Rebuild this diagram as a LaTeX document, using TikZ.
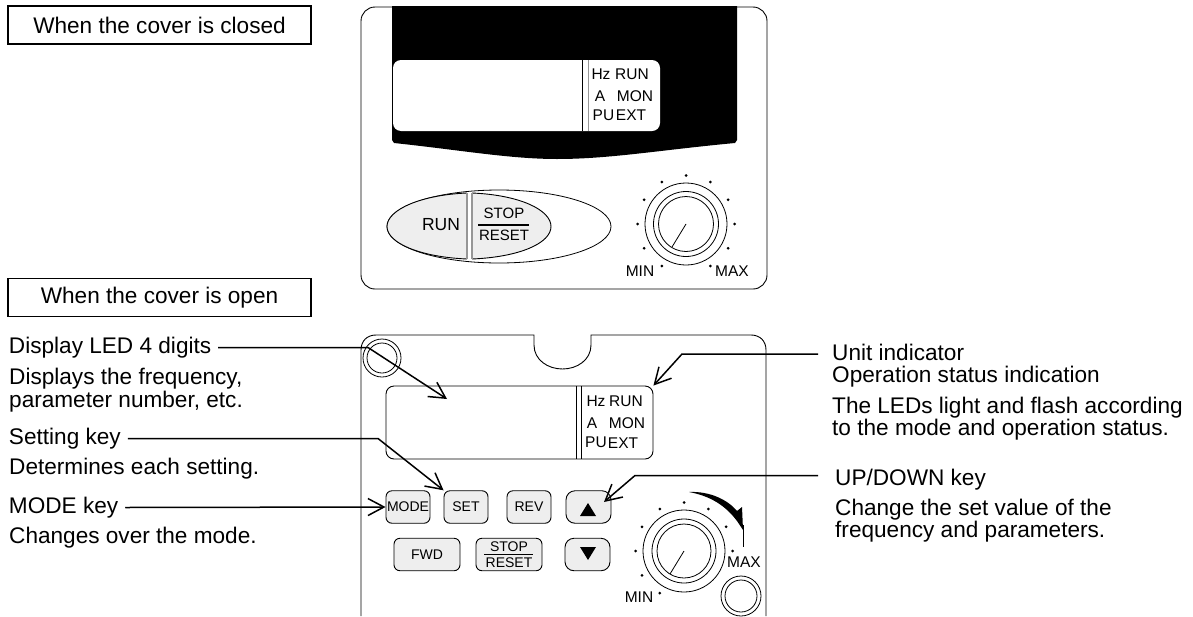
\documentclass[tikz,border=0pt]{standalone}
\usepackage{fontspec}
\setmainfont{Liberation Sans}
\usetikzlibrary{arrows.meta}
\definecolor{keygray}{RGB}{238, 238, 238}
\definecolor{bargray}{RGB}{150, 150, 150}

\begin{document}
\begin{tikzpicture}[
	x=1pt, y=-1pt,
	panel/.style={draw, line width=0.9pt},
	title/.style={draw, line width=1.2pt, minimum width=303pt, minimum height=38pt, inner sep=0pt,
		font=\fontsize{22.6}{24}\selectfont},
	lbl/.style={anchor=base west, inner sep=0pt, text height=16pt, text depth=5pt,
		font=\fontsize{22.6}{24}\selectfont},
	leadlbl/.style={lbl, outer xsep=7pt},
	unit/.style={inner sep=0pt, font=\fontsize{15.5}{17}\selectfont},
	window/.style={draw, line width=0.9pt, fill=white, rounded corners=8pt},
	key/.style={draw, line width=0.9pt, fill=keygray, rounded corners=6pt, minimum height=32.5pt,
		inner sep=0pt, font=\fontsize{14}{15}\selectfont, align=center},
	arrkey/.style={key, rounded corners=9pt, minimum width=45pt},
	arr/.style={-{Straight Barb[length=16pt,width=17pt]}, line width=1.5pt, black}
	]
	\useasboundingbox (0,0) rectangle (1193,616);

	% cover closed
	\node[title] (closedtitle) at (159.5,25) {When the cover is closed};
	\draw[panel, rounded corners=14pt] (361,289) -- (361,7) -- (767,7) -- (767,289) -- cycle;
	\fill (392,6) -- (737,6) -- (737,140) -- (735,143) .. controls (660,150) and (610,159) .. (557,159)
		.. controls (510,159) and (460,150) .. (394,143) -- (392,140) -- cycle;
	\node[window, draw=none, minimum width=267pt, minimum height=71pt] (closedwin) at (526.5,95.5) {};
	\draw[line width=0.8pt] (582,60) -- (582,131);
	\draw[bargray, line width=1.8pt] (588.5,60) -- (588.5,131);
	\node[unit] (chz)  at (601,74)  {Hz};
	\node[unit] (crun) at (632,74)  {RUN};
	\node[unit] (ca)   at (600,96)  {A};
	\node[unit] (cmon) at (635,96)  {MON};
	\node[unit] (cpu)  at (603.5,115) {PU};
	\node[unit] (cext) at (631,115) {EXT};

	% run and stop oval
	\draw[line width=0.8pt] (499,226.5) ellipse (112pt and 36.5pt);
	\fill[keygray] (467,193) .. controls (420,195) and (387,210) .. (387,226.5)
		.. controls (387,243) and (420,257) .. (467,259) -- cycle;
	\draw[line width=0.9pt] (467,193) .. controls (420,195) and (387,210) .. (387,226.5)
		.. controls (387,243) and (420,257) .. (467,259);
	\fill[keygray] (472,193) .. controls (520,195) and (551,210) .. (551,226.5)
		.. controls (551,243) and (520,257) .. (472,259) -- cycle;
	\draw[line width=0.9pt] (472,193) .. controls (520,195) and (551,210) .. (551,226.5)
		.. controls (551,243) and (520,257) .. (472,259);
	\draw[bargray, line width=1.6pt] (467,193) -- (467,259) (472,193) -- (472,259);
	\node[unit, font=\fontsize{17.5}{19}\selectfont] (crunkey) at (441,225) {RUN};
	\node[unit, font=\fontsize{15}{16}\selectfont] (cstop)  at (504,213) {STOP};
	\node[unit, font=\fontsize{15}{16}\selectfont] (creset) at (504,235) {RESET};
	\draw[line width=1.2pt] (478,225) -- (529,225);

	% closed dial
	\draw[line width=0.8pt] (686,224) circle[radius=41pt] (686,224) circle[radius=32.5pt] (686,224) circle[radius=27.5pt];
	\draw[line width=0.8pt] (686,224) -- (672,247);
	\foreach \a in {0,30,60,120,150,180,210,240,270,300,330}
		\fill ([shift={(686,224)}] \a:48.5) circle[radius=1.5pt];
	\node[unit] (cmin) at (640,271) {MIN};
	\node[unit] (cmax) at (732,271) {MAX};

	% cover open
	\node[title] (opentitle) at (159.5,297.5) {When the cover is open};
	\draw[panel] (361,616) -- (361,350) .. controls (361,341) and (367,335) .. (376,335) -- (534,335) -- (534,345)
		.. controls (534,360) and (548,369) .. (562.5,369) .. controls (577,369) and (591,360) .. (591,345)
		-- (591,335) -- (751,335) .. controls (760,335) and (766,341) .. (766,350) -- (766,616);
	\draw[line width=0.8pt] (382,358) circle[radius=19pt] (382,358) circle[radius=15pt];
	\draw[line width=0.8pt] (741,596) circle[radius=20pt] (741,596) circle[radius=16pt];
	\node[window, minimum width=267pt, minimum height=73pt] (openwin) at (519.5,422.5) {};
	\draw[line width=0.8pt] (576,386) -- (576,459) (581,386) -- (581,459);
	\node[unit] (ohz)  at (596,401) {Hz};
	\node[unit] (orun) at (626,401) {RUN};
	\node[unit] (oa)   at (592,423) {A};
	\node[unit] (omon) at (627,423) {MON};
	\node[unit] (opu)  at (596,442) {PU};
	\node[unit] (oext) at (623,443) {EXT};

	% keys
	\node[key, minimum width=44pt] (modekey) at (408,507) {MODE};
	\node[key, minimum width=44pt] (setkey)  at (466,507) {SET};
	\node[key, minimum width=44pt] (revkey)  at (529,507) {REV};
	\node[arrkey] (upkey)   at (588.5,507) {};
	\node[key, minimum width=66pt] (fwdkey)  at (427,554.5) {FWD};
	\node[key, minimum width=66pt] (stopkey) at (509,554.5) {};
	\node[unit, font=\fontsize{14}{15}\selectfont] (ostop)  at (509,547) {STOP};
	\node[unit, font=\fontsize{14}{15}\selectfont] (oreset) at (509,563) {RESET};
	\draw[line width=1pt] (484,554.5) -- (533,554.5);
	\node[arrkey] (downkey) at (587.5,554.5) {};
	\fill (580,516) -- (596,516) -- (588,503) -- cycle;
	\fill (580,547) -- (596,547) -- (588,560) -- cycle;

	% open dial
	\draw[line width=0.8pt] (684,551) circle[radius=41pt] (684,551) circle[radius=32pt] (684,551) circle[radius=27pt];
	\draw[line width=0.8pt] (684,551) -- (670,574);
	\foreach \a in {0,120,150,180,210,240,270,300,330}
		\fill ([shift={(684,551)}] \a:48.5) circle[radius=1.5pt];
	\fill (689,492) .. controls (710,491) and (728,500) .. (737,511) -- (742,507) -- (743,530)
		-- (737,521) .. controls (725,505) and (710,496) .. (689,492) -- cycle;
	\draw[line width=0.8pt] (743,525) -- (743,547);
	\node[unit] (omin) at (639,597) {MIN};
	\node[unit] (omax) at (744,562) {MAX};

	% left labels
	\node[leadlbl] (displaylbl) at (2,353) {Display LED 4 digits};
	\node[lbl] (displaytxt) at (9,384) {Displays the frequency,};
	\node[lbl] (displaytxtb) at (9,407) {parameter number, etc.};
	\node[leadlbl] (setlbl)  at (2,444) {Setting key};
	\node[lbl] (settxt)  at (9,474) {Determines each setting.};
	\node[leadlbl] (modelbl) at (2,513) {MODE key};
	\node[lbl] (modetxt) at (9,543) {Changes over the mode.};

	% right labels
	\node[lbl] (unitlbl)  at (832,360) {Unit indicator};
	\node[lbl] (unittxt)  at (832,382.5) {Operation status indication};
	\node[lbl] (unittxtb) at (832,413) {The LEDs light and flash according};
	\node[lbl] (unittxtc) at (832,435) {to the mode and operation status.};
	\node[lbl] (uplbl)    at (835,485) {UP/DOWN key};
	\node[lbl] (uptxt)    at (835,515) {Change the set value of the};
	\node[lbl] (uptxtb)   at (835,537) {frequency and parameters.};

	% connectors
	\coordinate (displaybend) at (368,347.5);
	\coordinate (displaytip)  at (447,399);
	\coordinate (setbend)     at (378,438.5);
	\coordinate (unitstart)   at (818,354);
	\coordinate (unitbend)    at (682,354);
	\coordinate (upstart)     at (818,475.5);
	\coordinate (upbend)      at (635,475.5);
	\coordinate (uptip)       at (604,502);
	\draw[arr] (displaylbl.east) -- (displaybend) -- (displaytip);
	\draw[arr] (setlbl.east) -- (setbend) -- (setkey.north west);
	\draw[arr] (modelbl.east) -- (modekey.west);
	\draw[arr] (unitstart) -- (unitbend) -- (openwin.north east);
	\draw[arr] (upstart) -- (upbend) -- (uptip);
\end{tikzpicture}
\end{document}
